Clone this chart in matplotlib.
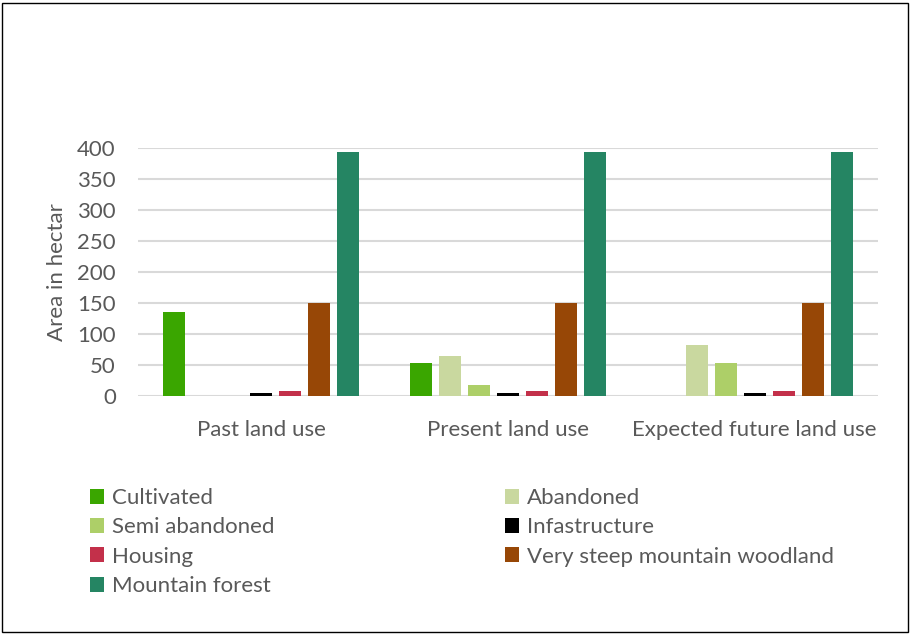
import matplotlib
matplotlib.use("Agg")
import matplotlib.pyplot as plt
import numpy as np
from matplotlib.patches import Rectangle

categories = ["Past land use", "Present land use", "Expected future land use"]
series_names = ["Cultivated", "Abandoned", "Semi abandoned", "Infastructure",
                "Housing", "Very steep mountain woodland", "Mountain forest"]
cultivated = [136, 53, 0]
abandoned = [0, 64, 83]
semi_abandoned = [0, 18, 53]
infrastructure = [5, 5, 5]
housing = [8, 8, 8]
woodland = [150, 150, 150]
forest = [393, 393, 393]
values = [cultivated, abandoned, semi_abandoned, infrastructure, housing, woodland, forest]
colors = ["#3AA600", "#C9D89F", "#ADCF68", "#000000", "#C3304A", "#974706", "#258563"]
yticks = [0, 50, 100, 150, 200, 250, 300, 350, 400]

plt.rcParams['font.family'] = ['Lato', 'DejaVu Sans']
txt = "#595959"
fs = 16

fig = plt.figure(figsize=(9.11, 6.35), dpi=100)
ax = fig.add_axes([138/911, 1-396/635, (878-138)/911, (396-148)/635])

x = np.arange(len(categories))
step = 0.1176
width = 0.089
handles = []
for i, (name, vals, c) in enumerate(zip(series_names, values, colors)):
    b = ax.bar(x + (i - 3) * step, vals, width, color=c, label=name, zorder=3)
    handles.append(b)

ax.set_xlim(-0.5, 2.5)
ax.set_ylim(0, 400)
ax.set_yticks(yticks)
ax.set_yticklabels([str(t) for t in yticks], fontsize=fs, color=txt)
ax.set_xticks(x)
ax.set_xticklabels(categories, fontsize=fs, color=txt)
ax.tick_params(axis='x', length=0, pad=17)
ax.tick_params(axis='y', length=0, pad=16)
ax.grid(axis='y', color="#D9D9D9", linewidth=1.5, zorder=0)
for s in ax.spines.values():
    s.set_visible(False)
ax.set_ylabel("Area in hectar", fontsize=fs, color=txt, labelpad=7)

kw = dict(loc='upper left', frameon=False, fontsize=fs, handlelength=0.65, handleheight=0.65,
          handletextpad=0.35, labelspacing=0.42, labelcolor=txt, borderaxespad=0, borderpad=0)
leg1 = fig.legend([handles[i] for i in (0, 2, 4, 6)], [series_names[i] for i in (0, 2, 4, 6)],
                  bbox_to_anchor=(90/911, 1-488/635), **kw)
leg2 = fig.legend([handles[i] for i in (1, 3, 5)], [series_names[i] for i in (1, 3, 5)],
                  bbox_to_anchor=(505/911, 1-488/635), **kw)

fig.patches.append(Rectangle((2/911, 3/635), 906/911, 629/635, transform=fig.transFigure,
                             fill=False, edgecolor="black", linewidth=1))

fig.savefig("out.png", dpi=100)
